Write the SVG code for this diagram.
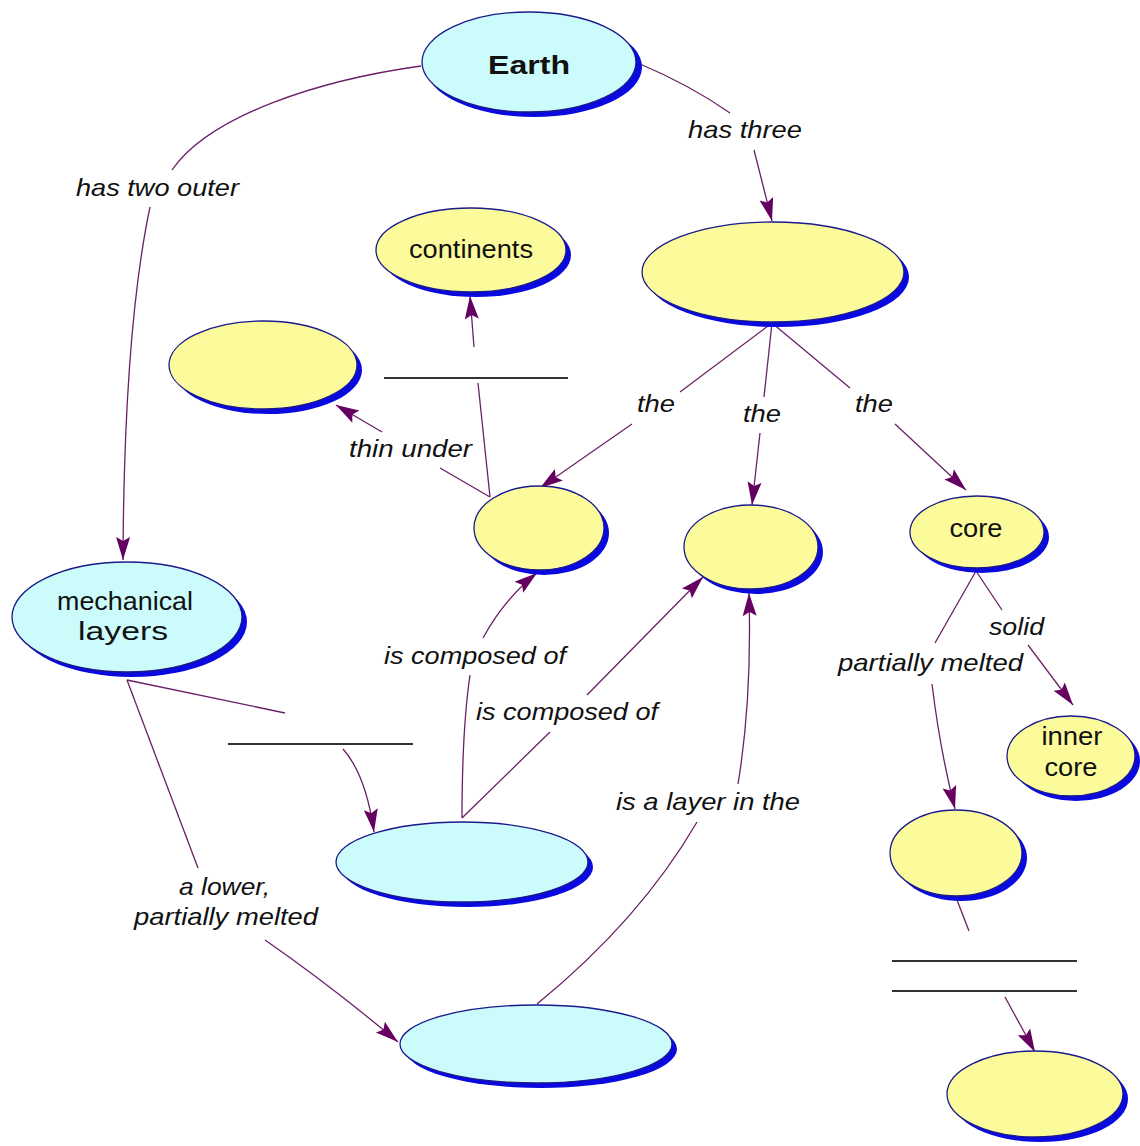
<svg xmlns="http://www.w3.org/2000/svg" width="1140" height="1146" viewBox="0 0 1140 1146">
<style>
.sh{fill:#0a0ae0;stroke:none}
.y{fill:#fbfb9c;stroke:#1a1a8a;stroke-width:1.3}
.c{fill:#cbfbfb;stroke:#1a1a8a;stroke-width:1.3}
.nt{font-family:"Liberation Sans",Arial,sans-serif;font-size:25px;fill:#111;text-anchor:middle}
.lb{font-family:"Liberation Sans",Arial,sans-serif;font-size:24px;font-style:italic;fill:#111;text-anchor:start}
.ln{fill:none;stroke:#6a1f66;stroke-width:1.3}
.bl{stroke:#333;stroke-width:2;fill:none}
</style>
<defs>
<marker id="ah" viewBox="-24 -8 25 16" refX="0" refY="0" markerWidth="25" markerHeight="16" markerUnits="userSpaceOnUse" orient="auto">
<path d="M0,0 L-23,-7 L-19,0 L-23,7 Z" fill="#660060"/>
</marker>
</defs>
<rect width="1140" height="1146" fill="#ffffff"/>

<g id="connectors">
<path class="ln" d="M421,66 C320,80 210,115 172,170"/>
<path class="ln" d="M150,207 Q124,330 123,560" marker-end="url(#ah)"/>
<path class="ln" d="M640,64 Q690,85 730,113"/>
<path class="ln" d="M754,150 L772,221" marker-end="url(#ah)"/>
<path class="ln" d="M772,323 L680,392"/>
<path class="ln" d="M632,424 L540,488" marker-end="url(#ah)"/>
<path class="ln" d="M772,323 L764,397"/>
<path class="ln" d="M760,433 L752,505" marker-end="url(#ah)"/>
<path class="ln" d="M772,323 L850,388"/>
<path class="ln" d="M895,424 L966,490" marker-end="url(#ah)"/>
<path class="ln" d="M490,497 L440,468"/>
<path class="ln" d="M382,432 L336,405" marker-end="url(#ah)"/>
<path class="ln" d="M490,497 L478,383"/>
<path class="ln" d="M474,347 L470,296" marker-end="url(#ah)"/>
<path class="ln" d="M127,680 L285,713"/>
<path class="ln" d="M343,749 Q366,775 374,832" marker-end="url(#ah)"/>
<path class="ln" d="M127,680 L198,868"/>
<path class="ln" d="M265,940 Q330,985 398,1042" marker-end="url(#ah)"/>
<path class="ln" d="M462,818 Q462,730 470,675"/>
<path class="ln" d="M483,638 Q505,598 537,573" marker-end="url(#ah)"/>
<path class="ln" d="M462,818 L550,732"/>
<path class="ln" d="M587,695 L703,577" marker-end="url(#ah)"/>
<path class="ln" d="M537,1004 Q640,920 697,822"/>
<path class="ln" d="M738,784 Q752,700 749,593" marker-end="url(#ah)"/>
<path class="ln" d="M976,571 L935,643"/>
<path class="ln" d="M932,684 Q940,750 955,809" marker-end="url(#ah)"/>
<path class="ln" d="M976,571 L1002,610"/>
<path class="ln" d="M1028,645 L1073,705" marker-end="url(#ah)"/>
<path class="ln" d="M957,900 L969,931"/>
<path class="ln" d="M1005,997 L1035,1052" marker-end="url(#ah)"/>
<line class="bl" x1="384" y1="378" x2="568" y2="378"/>
<line class="bl" x1="228" y1="744" x2="413" y2="744"/>
<line class="bl" x1="892" y1="961" x2="1077" y2="961"/>
<line class="bl" x1="892" y1="991" x2="1077" y2="991"/>
<text class="lb" x="76" y="196" textLength="163" lengthAdjust="spacingAndGlyphs">has two outer</text>
<text class="lb" x="688" y="138" textLength="114" lengthAdjust="spacingAndGlyphs">has three</text>
<text class="lb" x="637" y="412" textLength="38" lengthAdjust="spacingAndGlyphs">the</text>
<text class="lb" x="743" y="422" textLength="38" lengthAdjust="spacingAndGlyphs">the</text>
<text class="lb" x="855" y="412" textLength="38" lengthAdjust="spacingAndGlyphs">the</text>
<text class="lb" x="349" y="457" textLength="123" lengthAdjust="spacingAndGlyphs">thin under</text>
<text class="lb" x="384" y="664" textLength="182" lengthAdjust="spacingAndGlyphs">is composed of</text>
<text class="lb" x="476" y="720" textLength="182" lengthAdjust="spacingAndGlyphs">is composed of</text>
<text class="lb" x="616" y="810" textLength="184" lengthAdjust="spacingAndGlyphs">is a layer in the</text>
<text class="lb" x="838" y="671" textLength="185" lengthAdjust="spacingAndGlyphs">partially melted</text>
<text class="lb" x="989" y="635" textLength="55" lengthAdjust="spacingAndGlyphs">solid</text>
<text class="lb" x="179" y="895" textLength="91" lengthAdjust="spacingAndGlyphs">a lower,</text>
<text class="lb" x="134" y="925" textLength="184" lengthAdjust="spacingAndGlyphs">partially melted</text>
</g>

<g id="n-earth">
<ellipse class="sh" cx="534" cy="67" rx="108" ry="50"/>
<ellipse class="c" cx="529" cy="62" rx="107" ry="50"/>
<text class="nt" x="529" y="74" font-size="34" font-weight="bold" textLength="82" lengthAdjust="spacingAndGlyphs">Earth</text>
</g>
<g id="n-layers">
<ellipse class="sh" cx="778" cy="277" rx="131" ry="50"/>
<ellipse class="y" cx="773" cy="272" rx="131" ry="50"/>
</g>
<g id="n-continents">
<ellipse class="sh" cx="476" cy="255" rx="95" ry="42"/>
<ellipse class="y" cx="471" cy="250" rx="95" ry="42"/>
<text class="nt" x="471" y="258" textLength="124" lengthAdjust="spacingAndGlyphs">continents</text>
</g>
<g id="n-left">
<ellipse class="sh" cx="268" cy="370" rx="94" ry="44"/>
<ellipse class="y" cx="263" cy="365" rx="94" ry="44"/>
</g>
<g id="n-crust">
<ellipse class="sh" cx="544" cy="533" rx="65" ry="42"/>
<ellipse class="y" cx="539" cy="528" rx="65" ry="42"/>
</g>
<g id="n-mantle">
<ellipse class="sh" cx="756" cy="552" rx="67" ry="42"/>
<ellipse class="y" cx="751" cy="547" rx="67" ry="42"/>
</g>
<g id="n-core">
<ellipse class="sh" cx="982" cy="537" rx="67" ry="36"/>
<ellipse class="y" cx="977" cy="532" rx="67" ry="36"/>
<text class="nt" x="976" y="537" textLength="53" lengthAdjust="spacingAndGlyphs">core</text>
</g>
<g id="n-mech">
<ellipse class="sh" cx="132" cy="622" rx="115" ry="55"/>
<ellipse class="c" cx="127" cy="617" rx="115" ry="55"/>
<text class="nt" x="125" y="610" textLength="136" lengthAdjust="spacingAndGlyphs">mechanical</text>
<text class="nt" x="123" y="640" textLength="90" lengthAdjust="spacingAndGlyphs">layers</text>
</g>
<g id="n-inner">
<ellipse class="sh" cx="1076" cy="761" rx="64" ry="40"/>
<ellipse class="y" cx="1071" cy="756" rx="64" ry="40"/>
<text class="nt" x="1072" y="745" textLength="61" lengthAdjust="spacingAndGlyphs">inner</text>
<text class="nt" x="1071" y="776" textLength="53" lengthAdjust="spacingAndGlyphs">core</text>
</g>
<g id="n-outer">
<ellipse class="sh" cx="961" cy="858" rx="66" ry="43"/>
<ellipse class="y" cx="956" cy="853" rx="66" ry="43"/>
</g>
<g id="n-litho">
<ellipse class="sh" cx="467" cy="867" rx="126" ry="40"/>
<ellipse class="c" cx="462" cy="862" rx="126" ry="40"/>
</g>
<g id="n-astheno">
<ellipse class="sh" cx="541" cy="1049" rx="136" ry="39"/>
<ellipse class="c" cx="536" cy="1044" rx="136" ry="39"/>
</g>
<g id="n-bottom">
<ellipse class="sh" cx="1040" cy="1099" rx="88" ry="43"/>
<ellipse class="y" cx="1035" cy="1094" rx="88" ry="43"/>
</g>
</svg>
